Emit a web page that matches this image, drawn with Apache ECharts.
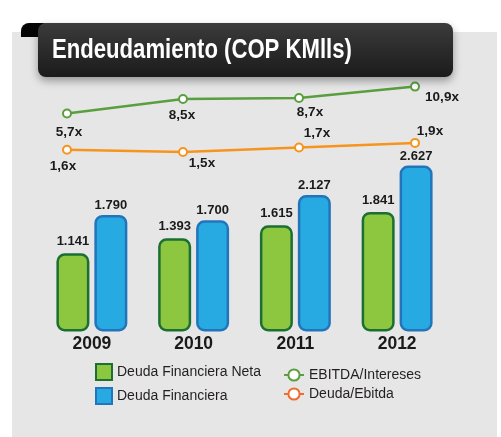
<!DOCTYPE html>
<html>
<head>
<meta charset="utf-8">
<script src="https://cdn.jsdelivr.net/npm/echarts@6/dist/echarts.min.js"></script>
<style>
  html, body { margin: 0; padding: 0; background: #fff; }
  #chart { width: 501px; height: 437px; }
</style>
</head>
<body>
<div id="chart"></div>
<script>
var years = ['2009', '2010', '2011', '2012'];
var deudaNeta = [1141, 1393, 1615, 1841];
var deudaFinanciera = [1790, 1700, 2127, 2627];
var ebitdaIntereses = [5.7, 8.5, 8.7, 10.9];
var deudaEbitda = [1.6, 1.5, 1.7, 1.9];

// label nudges for the ratio lines, in px from each point
var greenLabelOffsets = [[2, 19], [-1, 16], [11, 14], [27, 11]];
var orangeLabelOffsets = [[-4, 17], [19, 11], [18, -14], [15, -12]];

var GREEN = '#8dc63f', GREEN_EDGE = '#1b6f32';
var BLUE = '#27aae1', BLUE_EDGE = '#2275bb';
var LINE_GREEN = '#5a9e3f', LINE_ORANGE = '#f7941d', LEGEND_ORANGE = '#ee6c30';
var TEXT = '#1a1a1a';
var FONT = 'Liberation Sans, Arial, sans-serif';

// the original bars do not start from zero: they sit on a raised baseline
var BAR_BASE = -186;

function thousands(v) {
    return String(v).replace(/\B(?=(\d{3})+(?!\d))/g, '.');
}

function ratioLabel(p) {
    return String(p.value).replace('.', ',') + 'x';
}

function ratioData(values, offsets) {
    return values.map(function (v, i) {
        return { value: v, label: { offset: offsets[i] } };
    });
}

var chart = echarts.init(document.getElementById('chart'), null, { renderer: 'canvas' });

chart.setOption({
    backgroundColor: '#ffffff',
    animation: false,
    graphic: [
        { type: 'rect', z: -10, shape: { x: 12, y: 32, width: 485, height: 405 }, style: { fill: '#e6e6e6' } },
        { type: 'rect', z: 20, shape: { x: 21, y: 23, width: 30, height: 14, r: [8, 8, 0, 0] }, style: { fill: '#050505' } },
        {
            type: 'rect', z: 21,
            shape: { x: 38, y: 23, width: 415, height: 54, r: 8 },
            style: {
                fill: new echarts.graphic.LinearGradient(0, 0, 0, 1, [
                    { offset: 0, color: '#3b3b3b' },
                    { offset: 1, color: '#1b1b1b' }
                ]),
                shadowBlur: 8, shadowOffsetY: 4, shadowColor: 'rgba(0,0,0,0.35)'
            }
        },
        {
            // condensed look: squeeze a regular bold face sideways
            type: 'text', z: 22, x: 52, y: 50, scaleX: 0.79,
            style: {
                text: 'Endeudamiento (COP KMlls)',
                fill: '#ffffff',
                font: 'bold 28px "Liberation Sans", Arial, sans-serif',
                verticalAlign: 'middle'
            }
        }
    ],
    grid: [
        { left: 41, right: 53, top: 129.5, bottom: 105.5 },
        { left: 67, right: 86, top: 39.5, bottom: 294 },
        { left: 67, right: 86, top: 140.6, bottom: 250.6 }
    ],
    xAxis: [
        {
            type: 'category', gridIndex: 0, data: years,
            axisLine: { show: false }, axisTick: { show: false },
            axisLabel: { color: TEXT, fontWeight: 'bold', fontSize: 17.5, fontFamily: FONT, margin: 4 }
        },
        { type: 'category', gridIndex: 1, data: years, boundaryGap: false, show: false },
        { type: 'category', gridIndex: 2, data: years, boundaryGap: false, show: false }
    ],
    yAxis: [
        { type: 'value', gridIndex: 0, min: BAR_BASE, max: 3238, startValue: BAR_BASE, show: false },
        { type: 'value', gridIndex: 1, min: 0, max: 20, show: false },
        { type: 'value', gridIndex: 2, min: 0, max: 2, show: false }
    ],
    legend: [
        {
            left: 90, top: 358, orient: 'vertical', itemWidth: 16, itemHeight: 16, itemGap: 6,
            icon: 'rect',
            textStyle: { color: '#231f20', fontSize: 14, fontFamily: FONT },
            data: [
                { name: 'Deuda Financiera Neta', itemStyle: { color: GREEN, borderColor: GREEN_EDGE, borderWidth: 2 } },
                { name: 'Deuda Financiera', itemStyle: { color: BLUE, borderColor: BLUE_EDGE, borderWidth: 2 } }
            ]
        },
        {
            left: 278, top: 363, orient: 'vertical', itemWidth: 20, itemHeight: 14, itemGap: 5,
            textStyle: { color: '#231f20', fontSize: 14, fontFamily: FONT },
            data: [
                'EBITDA/Intereses',
                { name: 'Deuda/Ebitda', itemStyle: { color: LEGEND_ORANGE, borderColor: LEGEND_ORANGE }, lineStyle: { color: LEGEND_ORANGE } }
            ]
        }
    ],
    series: [
        {
            name: 'Deuda Financiera Neta', type: 'bar', xAxisIndex: 0, yAxisIndex: 0,
            data: deudaNeta, barWidth: 33, barGap: '15%',
            itemStyle: { color: GREEN, borderColor: GREEN_EDGE, borderWidth: 2.5, borderRadius: 7 },
            label: {
                show: true, position: 'top', distance: 5, color: TEXT, fontWeight: 'bold', fontSize: 13,
                fontFamily: FONT,
                formatter: function (p) { return thousands(p.value); }
            }
        },
        {
            name: 'Deuda Financiera', type: 'bar', xAxisIndex: 0, yAxisIndex: 0,
            data: deudaFinanciera, barWidth: 33,
            itemStyle: { color: BLUE, borderColor: BLUE_EDGE, borderWidth: 2.5, borderRadius: 7 },
            label: {
                show: true, position: 'top', distance: 3, color: TEXT, fontWeight: 'bold', fontSize: 13,
                fontFamily: FONT,
                formatter: function (p) { return thousands(p.value); }
            }
        },
        {
            name: 'EBITDA/Intereses', type: 'line', xAxisIndex: 1, yAxisIndex: 1,
            data: ratioData(ebitdaIntereses, greenLabelOffsets),
            symbol: 'emptyCircle', symbolSize: 8,
            lineStyle: { color: LINE_GREEN, width: 2.5 },
            itemStyle: { color: LINE_GREEN, borderWidth: 2.5 },
            label: {
                show: true, position: 'inside', color: TEXT, fontWeight: 'bold', fontSize: 13.5,
                fontFamily: FONT, formatter: ratioLabel
            }
        },
        {
            name: 'Deuda/Ebitda', type: 'line', xAxisIndex: 2, yAxisIndex: 2,
            data: ratioData(deudaEbitda, orangeLabelOffsets),
            symbol: 'emptyCircle', symbolSize: 8,
            lineStyle: { color: LINE_ORANGE, width: 2.5 },
            itemStyle: { color: LINE_ORANGE, borderWidth: 2.5 },
            label: {
                show: true, position: 'inside', color: TEXT, fontWeight: 'bold', fontSize: 13.5,
                fontFamily: FONT, formatter: ratioLabel
            }
        }
    ]
});
</script>
</body>
</html>
